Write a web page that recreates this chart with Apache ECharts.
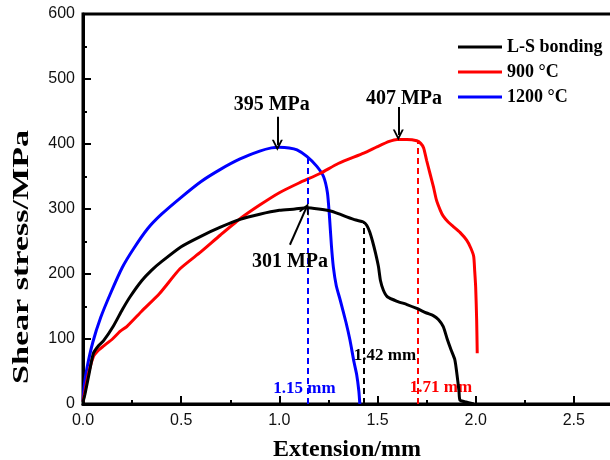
<!DOCTYPE html>
<html><head><meta charset="utf-8">
<script src="https://cdn.jsdelivr.net/npm/echarts@6/dist/echarts.min.js"></script>
<style>html,body{margin:0;padding:0;background:#fff}#c{width:610px;height:460px}</style>
</head><body><div id="c"></div>
<script>
// ---- data ----
const seriesNames = ['L-S bonding', '900 °C', '1200 °C'];
const lsBonding = [[0,3],[0.01,15],[0.03,45],[0.053,78],[0.08,90],[0.104,97],[0.155,120],[0.2,145],[0.24,165],[0.3,190],[0.35,206],[0.4,219],[0.5,242],[0.6,258],[0.7,272],[0.8,284],[0.9,292],[1.0,298],[1.08,300],[1.14,302],[1.2,300],[1.26,297],[1.3,293],[1.343,288],[1.39,283],[1.428,280],[1.445,275],[1.46,265],[1.475,250],[1.49,232],[1.505,211],[1.515,190],[1.53,175],[1.55,165],[1.6,158],[1.65,153],[1.7,147],[1.75,140],[1.784,136],[1.81,130],[1.835,119],[1.855,100],[1.875,83],[1.894,68],[1.905,45],[1.915,20],[1.92,6],[1.95,3],[1.99,0]];
const t900 = [[0,4],[0.01,20],[0.028,47],[0.053,73],[0.08,83],[0.104,89],[0.15,100],[0.19,112],[0.223,119],[0.3,143],[0.39,170],[0.494,208],[0.6,234],[0.7,260],[0.8,285],[0.9,306],[1.0,325],[1.1,340],[1.21,355],[1.3,370],[1.43,386],[1.5,396],[1.56,404],[1.6,407],[1.65,407],[1.7,405],[1.72,401],[1.735,394],[1.75,375],[1.767,355],[1.785,334],[1.8,314],[1.82,298],[1.835,289],[1.86,280],[1.886,273],[1.92,264],[1.954,252],[1.975,240],[1.99,227],[1.995,205],[2.0,180],[2.005,130],[2.008,78]];
const t1200 = [[0,5],[0.005,25],[0.02,55],[0.05,95],[0.09,133],[0.14,170],[0.2,210],[0.26,240],[0.33,270],[0.4,292],[0.5,318],[0.6,342],[0.7,361],[0.8,377],[0.9,389],[0.96,394],[1.0,395],[1.05,394],[1.09,391],[1.14,381],[1.19,366],[1.225,350],[1.245,325],[1.255,290],[1.265,245],[1.275,211],[1.29,182],[1.31,160],[1.34,125],[1.36,98],[1.38,65],[1.394,45],[1.405,20],[1.41,0]];
const xTickValues = [0, 0.5, 1.0, 1.5, 2.0, 2.5];
const yTickValues = [0, 100, 200, 300, 400, 500, 600];
// annotations (data coordinates)
const peakTexts = [['395 MPa', 0.961, 460], ['407 MPa', 1.635, 469], ['301 MPa', 1.054, 219]];
const peakArrows = [[[0.99, 442], [0.99, 398]], [[1.606, 457], [1.606, 414]], [[1.054, 245], [1.136, 301]]];
const failX = [1.428, 1.707, 1.145];          // black, red, blue
const failTop = [280, 404, 383];
const failTexts = [['1.42 mm', 1.538, 75], ['1.71 mm', 1.823, 25], ['1.15 mm', 1.128, 24]];

// ---- chart ----
const colors = ['#000000', '#ff0000', '#0000ff'];
const datas = [lsBonding, t900, t1200];
const serif = 'Liberation Serif, Times New Roman, serif';
const sans = 'Liberation Sans, Arial, sans-serif';
const chevron = 'path://M5,0 L10,10 L8.2,10 L5,3.6 L1.8,10 L0,10 Z';

const series = datas.map((d, i) => ({
  name: seriesNames[i], type: 'line', data: d, showSymbol: false, symbol: 'none', smooth: 0.2,
  lineStyle: {color: colors[i], width: 3}, itemStyle: {color: colors[i]},
  z: 5 - i,
  markLine: {
    silent: true, symbol: ['none', 'none'], label: {show: false},
    lineStyle: {color: colors[i], width: 2, type: [6, 4]},
    data: [[{coord: [failX[i], 0]}, {coord: [failX[i], failTop[i]]}]]
  },
  markPoint: {
    silent: true, symbol: 'circle', symbolSize: 0,
    label: {show: true, position: 'inside', color: colors[i], fontFamily: serif, fontWeight: 'bold', fontSize: 17,
      formatter: p => p.name},
    data: [{name: failTexts[i][0], coord: [failTexts[i][1], failTexts[i][2]]}]
  }
}));

series.push({
  name: 'annot', type: 'line', data: [], z: 10,
  markLine: {
    silent: true, symbol: ['none', chevron], symbolSize: 11, label: {show: false},
    lineStyle: {color: '#000', width: 2, type: 'solid'},
    itemStyle: {color: '#000'},
    data: peakArrows.map(a => [{coord: a[0]}, {coord: a[1]}])
  },
  markPoint: {
    silent: true, symbol: 'circle', symbolSize: 0,
    label: {show: true, position: 'inside', color: '#000', fontFamily: serif, fontWeight: 'bold', fontSize: 20,
      formatter: p => p.name},
    data: peakTexts.map(t => ({name: t[0], coord: [t[1], t[2]]}))
  }
});

const chart = echarts.init(document.getElementById('c'), null, {renderer: 'canvas'});
chart.setOption({
  animation: false,
  backgroundColor: '#fff',
  grid: {left: 83, top: 14, width: 589, height: 390, containLabel: false, outerBoundsMode: 'none',
    show: true, borderColor: '#000', borderWidth: 3, backgroundColor: 'transparent'},
  legend: {
    data: seriesNames, orient: 'vertical', left: 453, top: 32, icon: 'rect',
    itemWidth: 44, itemHeight: 3, itemGap: 5,
    textStyle: {fontFamily: serif, fontWeight: 'bold', fontSize: 18, color: '#000', lineHeight: 20}
  },
  xAxis: {
    type: 'value', min: 0, max: 3.0, interval: 0.5,
    splitLine: {show: false},
    axisLine: {lineStyle: {color: '#000', width: 3}},
    axisTick: {inside: true, length: 8, lineStyle: {color: '#000', width: 2}},
    minorTick: {show: true, splitNumber: 2, length: 4, lineStyle: {color: '#000', width: 2}},
    axisLabel: {margin: 9, fontFamily: sans, fontSize: 16, color: '#111',
      formatter: v => xTickValues.some(t => Math.abs(t - v) < 1e-6) ? v.toFixed(1) : ''}
  },
  yAxis: {
    type: 'value', min: 0, max: 600, interval: 100,
    splitLine: {show: false},
    axisLine: {lineStyle: {color: '#000', width: 3}},
    axisTick: {inside: true, length: 8, lineStyle: {color: '#000', width: 2}},
    minorTick: {show: true, splitNumber: 2, length: 4, lineStyle: {color: '#000', width: 2}},
    axisLabel: {margin: 8, fontFamily: sans, fontSize: 16, color: '#111',
      formatter: v => yTickValues.includes(v) ? String(v) : ''}
  },
  graphic: [
    {type: 'text', x: 347, y: 450, z: 20,
      style: {text: 'Extension/mm', font: 'bold 24px ' + serif, fill: '#000', textAlign: 'center', textVerticalAlign: 'middle'}},
    {type: 'text', x: 22, y: 257, rotation: Math.PI / 2, scaleX: 1.42, z: 20,
      style: {text: 'Shear stress/MPa', font: 'bold 24px ' + serif, fill: '#000', textAlign: 'center', textVerticalAlign: 'middle'}}
  ],
  series: series
});
</script></body></html>
